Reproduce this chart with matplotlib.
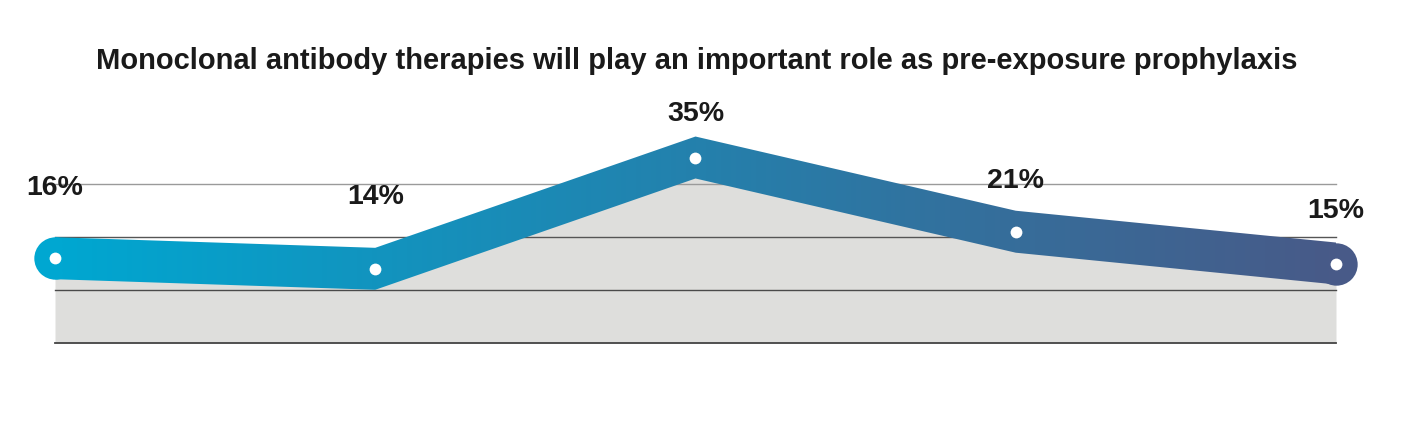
import numpy as np
import matplotlib.pyplot as plt
from matplotlib.colors import LinearSegmentedColormap

# data
categories = ['A', 'B', 'C', 'D', 'E']
values = [16, 14, 35, 21, 15]
labels = ['16%', '14%', '35%', '21%', '15%']
title = 'Monoclonal antibody therapies will play an important role as pre-exposure prophylaxis'

# style
label_offsets = [70, 72, 44, 51, 53]   # px above the point
band = 3.96                              # half height of the band, in %
grid_levels = [0, 10, 20, 30]
grid_colors = ['#444444', '#4a4a4a', '#555555', '#9a9a9a']
c_left, c_right = '#00a7d1', '#485a88'
font = 'Liberation Sans'

fig = plt.figure(figsize=(14.14, 4.48), dpi=100)
ax = fig.add_axes([0, 0, 1, 1])
x = np.arange(len(values))
y = np.array(values, dtype=float)

ax.set_xlim(-0.1717, 4.2436)
ax.set_ylim(-19.81, 64.72)
ax.axis('off')

# gray area under the line
ax.fill_between(x, 0, y, color='#dededc', lw=0, zorder=1)

# grid lines
for lev, col in zip(grid_levels, grid_colors):
    ax.plot([x[0], x[-1]], [lev, lev], color=col, lw=1.3 if lev == 0 else 1.0, zorder=2)

# round end caps
ax.plot(x[0], y[0], 'o', ms=30.5, color=c_left, mec='none', zorder=3)
ax.plot(x[-1], y[-1], 'o', ms=30.5, color=c_right, mec='none', zorder=3)

# gradient band
poly = ax.fill_between(x, y - band, y + band, color='none', lw=0, zorder=4)
cmap = LinearSegmentedColormap.from_list('grad', [c_left, c_right])
grad = np.linspace(0, 1, 256).reshape(1, -1)
im = ax.imshow(grad, cmap=cmap, aspect='auto', extent=[x[0], x[-1], -10, 50],
               zorder=4, interpolation='bilinear')
im.set_clip_path(poly.get_paths()[0], transform=ax.transData)

# white dots
ax.plot(x, y, 'o', ms=8.5, color='white', mec='none', zorder=5)

# value labels
for xi, yi, lab, off in zip(x, y, labels, label_offsets):
    ax.annotate(lab, (xi, yi), xytext=(0, off * 0.72), textcoords='offset points',
                ha='center', va='center', fontsize=20.5, fontweight='bold',
                family=font, color='#1a1a1a', zorder=6)

fig.text(0.493, 0.863, title, ha='center', va='center', fontsize=21,
         fontweight='bold', family=font, color='#1a1a1a')

fig.savefig('out.png', dpi=100)
